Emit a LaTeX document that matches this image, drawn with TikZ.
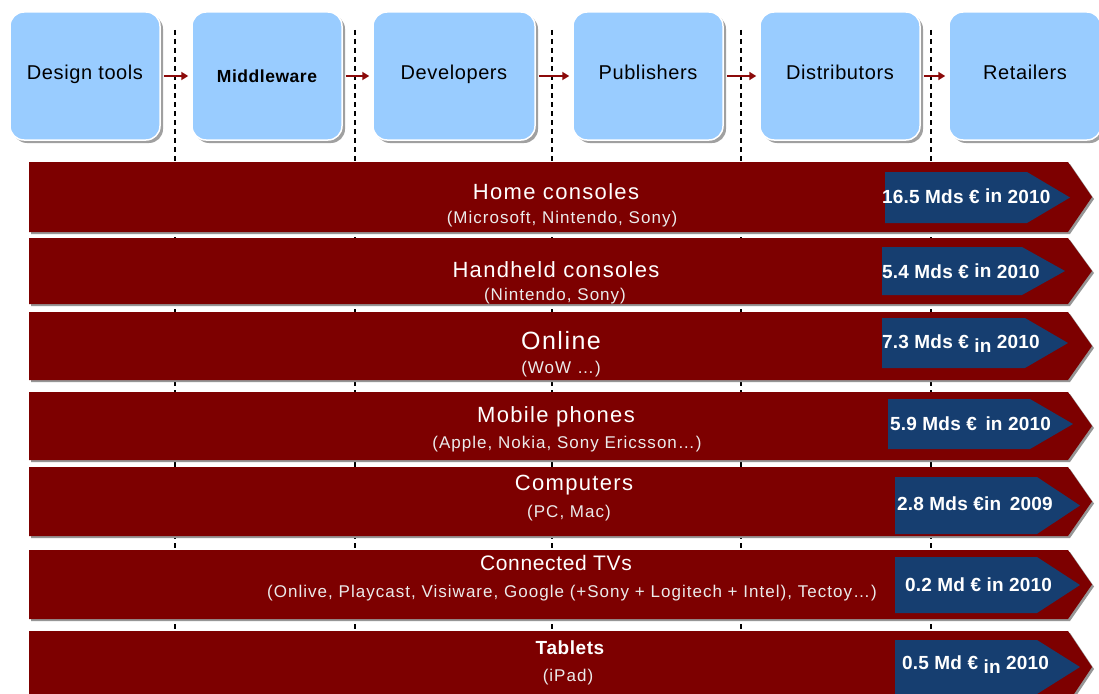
\documentclass[tikz,border=0pt]{standalone}
\usepackage{fontspec}
\setmainfont{Liberation Sans}
\newfontfamily\fTitle[LetterSpace=6]{Liberation Sans}
\newfontfamily\fSub[LetterSpace=6]{Liberation Sans}
\newfontfamily\fHead[LetterSpace=3]{Liberation Sans}
\newfontfamily\fLab[LetterSpace=1]{Liberation Sans}
\usetikzlibrary{shadows,arrows.meta}
\definecolor{barred}{RGB}{125,0,0}
\definecolor{labblue}{RGB}{22,62,112}
\definecolor{boxblue}{RGB}{153,204,255}
\definecolor{arrred}{RGB}{140,10,10}
\definecolor{shadowgray}{RGB}{150,150,150}
\newcommand\RBar[2]{%
  \fill[shadowgray] (31,{#1+2}) -- (1070,{#1+2}) -- (1094,{(#1+#2)/2+2}) -- (1070,{#2+2}) -- (31,{#2+2}) -- cycle;
  \fill[barred] (29,#1) -- (1068,#1) -- (1092,{(#1+#2)/2}) -- (1068,#2) -- (29,#2) -- cycle;}
\newcommand\BArrow[4]{%
  \fill[labblue] (#1,#2) -- ({#4-43},#2) -- (#4,{(#2+#3)/2}) -- ({#4-43},#3) -- (#1,#3) -- cycle;}
\begin{document}
\begin{tikzpicture}[x=1pt,y=-1pt,
  hbox/.style={rounded corners=14pt, fill=boxblue, draw=white, line width=1.5pt,
    minimum height=128pt, inner sep=0pt, text height=13pt, text depth=6pt,
    drop shadow={shadow xshift=3pt, shadow yshift=-3pt, fill=shadowgray, opacity=0.9},
    font=\fHead\fontsize{20}{24}\selectfont, text=black},
  harrow/.style={draw=arrred, line width=2.5pt, -{Triangle[length=7pt,width=8pt]},
    shorten <=3pt, shorten >=3pt},
  sep/.style={draw=black, line width=1.6pt, dash pattern=on 5pt off 4pt},
  ttl/.style={text=white, inner sep=0pt, font=\fTitle\fontsize{22}{26}\selectfont},
  subt/.style={text=white!92!black, inner sep=0pt, font=\fSub\fontsize{17}{20}\selectfont},
  lab/.style={text=white, inner sep=0pt, anchor=west, font=\fLab\bfseries\fontsize{19}{22}\selectfont}]
\useasboundingbox (0,0) rectangle (1099,693);
\clip (0,0) rectangle (1099,693);
\fill[white] (0,0) rectangle (1099,693);
% separators
\foreach \x in {175,355,552,741,931} \draw[sep] (\x,30) -- (\x,640);
% header boxes
\node[hbox, minimum width=150pt] (h1) at (85,76) {Design tools};
\node[hbox, minimum width=150pt, font=\fHead\bfseries\fontsize{17.5}{20}\selectfont] (h2) at (267,76) {\raisebox{-2.5pt}{Middleware}};
\node[hbox, minimum width=162pt] (h3) at (454,76) {Developers};
\node[hbox, minimum width=150pt] (h4) at (648,76) {Publishers};
\node[hbox, minimum width=160pt] (h5) at (840,76) {Distributors};
\node[hbox, minimum width=152pt] (h6) at (1025,76) {Retailers};
\draw[harrow] (h1.east) -- (h2.west);
\draw[harrow] (h2.east) -- (h3.west);
\draw[harrow] (h3.east) -- (h4.west);
\draw[harrow] (h4.east) -- (h5.west);
\draw[harrow] (h5.east) -- (h6.west);
% bars
\RBar{162}{232}
\RBar{238}{304}
\RBar{312}{380}
\RBar{392}{460}
\RBar{467}{536}
\RBar{550}{619}
\RBar{631}{703}
% blue value arrows
\BArrow{885}{172}{223}{1070}
\BArrow{882}{247}{295}{1065}
\BArrow{882}{318}{368}{1068}
\BArrow{888}{399}{449}{1073}
\BArrow{895}{477}{534}{1080}
\BArrow{895}{557}{613}{1080}
\BArrow{895}{640}{694}{1080}
% titles
\node[ttl] (t1) at (556,192) {Home consoles};
\node[subt] (s1) at (562,219) {(Microsoft, Nintendo, Sony)};
\node[ttl] (t2) at (556,270) {Handheld consoles};
\node[subt] (s2) at (555,296) {(Nintendo, Sony)};
\node[ttl, font=\fTitle\fontsize{25}{29}\selectfont] (t3) at (561,341) {Online};
\node[subt] (s3) at (561,369) {(WoW …)};
\node[ttl] (t4) at (556,417) {Mobile phones};
\node[subt] (s4) at (567,444) {(Apple, Nokia, Sony Ericsson…)};
\node[ttl] (t5) at (574,485) {Computers};
\node[subt] (s5) at (569,513) {(PC, Mac)};
\node[ttl, font=\fHead\fontsize{21}{25}\selectfont] (t6) at (556,563) {Connected TVs};
\node[subt] (s6) at (572,593) {(Onlive, Playcast, Visiware, Google (+Sony + Logitech + Intel), Tectoy…)};
\node[ttl, font=\fHead\bfseries\fontsize{19}{23}\selectfont] (t7) at (570,648) {Tablets};
\node[subt] (s7) at (568,677) {(iPad)};
% values
\node[lab] (v1) at (882,196) {16.5 Mds € \raisebox{1pt}{in} 2010};
\node[lab] (v2) at (882,271) {5.4 Mds € \raisebox{1pt}{in} 2010};
\node[lab] (v3) at (882,344) {7.3 Mds € \raisebox{-4pt}{in} 2010};
\node[lab] (v4) at (890,424) {5.9 Mds € \,in 2010};
\node[lab] (v5) at (897,504) {2.8 Mds €in \,2009};
\node[lab] (v6) at (905,585) {0.2 Md € in 2010};
\node[lab] (v7) at (902,665) {0.5 Md € \raisebox{-4pt}{in} 2010};
\end{tikzpicture}
\end{document}
